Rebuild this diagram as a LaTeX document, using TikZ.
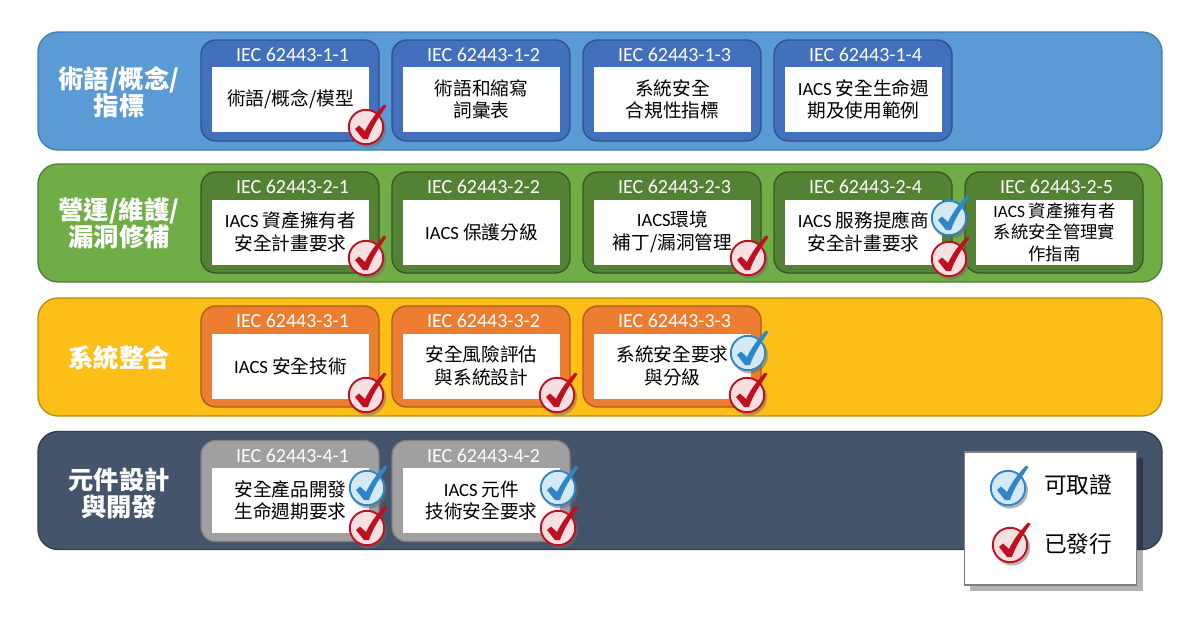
\documentclass[tikz,border=0pt]{standalone}
\usepackage{fontspec}
\setmainfont{Carlito}
\newfontfamily\cjk{Noto Sans CJK TC}
\newfontfamily\calibri{Carlito}
\definecolor{blueband}{HTML}{5B9BD5}
\definecolor{blueedge}{HTML}{3F7FB5}
\definecolor{bluecard}{HTML}{4270BC}
\definecolor{bluecardedge}{HTML}{2F528F}
\definecolor{greenband}{HTML}{70AD47}
\definecolor{greenedge}{HTML}{507E32}
\definecolor{greencard}{HTML}{548235}
\definecolor{greencardedge}{HTML}{385723}
\definecolor{yellowband}{HTML}{FBBF17}
\definecolor{yellowedge}{HTML}{BC8C0C}
\definecolor{orangecard}{HTML}{ED7D31}
\definecolor{orangecardedge}{HTML}{AE5A21}
\definecolor{navyband}{HTML}{44546A}
\definecolor{navyedge}{HTML}{323F4F}
\definecolor{greycard}{HTML}{A0A0A0}
\definecolor{greycardedge}{HTML}{7F7F7F}
\definecolor{tickred}{HTML}{C00F20}
\definecolor{tickredfill}{HTML}{F8E0E0}
\definecolor{tickblue}{HTML}{2E86C8}
\definecolor{tickbluefill}{HTML}{D5E9F4}
\definecolor{tickshade}{HTML}{6E6A66}
\newcommand{\ticksym}[2]{%
  \fill [tickshade, opacity=0.5] (2,2.5) circle (18);
  \draw [#1, fill=#2, line width=1.4pt] (0,0) circle (17.2);
  \fill [#1] (-11,2) -- (-7,-1.5) -- (-1,4) .. controls (5,-8) and (11,-15) .. (18,-22.5) -- (20.5,-21)
    .. controls (13,-10) and (6,0) .. (2,12) -- (-3,12) -- cycle;
}
\tikzset{
  band/.style={draw, rounded corners=15pt, line width=1pt, minimum width=843pt, minimum height=88.5pt},
  bandtext/.style={text=white, align=center, font=\cjk\bfseries\fontsize{19}{20.5}\selectfont},
  card/.style={draw, rounded corners=11pt, line width=1pt, minimum width=133.5pt, minimum height=75.75pt},
  cardtitle/.style={text=white, font=\calibri\fontsize{15}{16}\selectfont},
  cardbody/.style={fill=white, inner sep=0pt, align=center, minimum width=117.75pt, minimum height=48.75pt, font=\cjk\fontsize{14}{17}\selectfont},
  legendtext/.style={font=\cjk\fontsize{17}{19}\selectfont},
  pics/redtick/.style={code={\ticksym{tickred}{tickredfill}}},
  pics/bluetick/.style={code={\ticksym{tickblue}{tickbluefill}}}
}
\begin{document}
\begin{tikzpicture}[x=0.75pt,y=-0.75pt]
	\useasboundingbox (0,0) rectangle (1200,628);
	% bands
	\node [band, draw=blueedge, fill=blueband] (bandA) at (600,91) {};
	\node [band, draw=greenedge, fill=greenband] (bandB) at (600,223) {};
	\node [band, draw=yellowedge, fill=yellowband] (bandC) at (600,357) {};
	\node [band, draw=navyedge, fill=navyband] (bandD) at (600,490.5) {};
	\node [bandtext] (labelA) at (119,92) {術語/概念/\\指標};
	\node [bandtext] (labelB) at (119,223) {營運/維護/\\漏洞修補};
	\node [bandtext] (labelC) at (119,358) {系統整合};
	\node [bandtext] (labelD) at (119,493) {元件設計\\與開發};
	% first row
	\node [card, draw=bluecardedge, fill=bluecard] (cardAa) at (290,90.5) {};
	\node [card, draw=bluecardedge, fill=bluecard] (cardAb) at (481,90.5) {};
	\node [card, draw=bluecardedge, fill=bluecard] (cardAc) at (672,90.5) {};
	\node [card, draw=bluecardedge, fill=bluecard] (cardAd) at (863,90.5) {};
	\node [cardtitle] (titleAa) at (292.5,55) {IEC 62443-1-1};
	\node [cardtitle] (titleAb) at (483.5,55) {IEC 62443-1-2};
	\node [cardtitle] (titleAc) at (674.5,55) {IEC 62443-1-3};
	\node [cardtitle] (titleAd) at (865.5,55) {IEC 62443-1-4};
	\node [cardbody] (bodyAa) at (290.5,99.5) {術語/概念/模型};
	\node [cardbody] (bodyAb) at (481.5,99.5) {術語和縮寫\\詞彙表};
	\node [cardbody] (bodyAc) at (672.5,99.5) {系統安全\\合規性指標};
	\node [cardbody] (bodyAd) at (863.5,99.5) {{\calibri IACS} 安全生命週\\期及使用範例};
	% second row
	\node [card, draw=greencardedge, fill=greencard] (cardBa) at (290,222.5) {};
	\node [card, draw=greencardedge, fill=greencard] (cardBb) at (481,222.5) {};
	\node [card, draw=greencardedge, fill=greencard] (cardBc) at (672,222.5) {};
	\node [card, draw=greencardedge, fill=greencard] (cardBd) at (863,222.5) {};
	\node [card, draw=greencardedge, fill=greencard] (cardBe) at (1054,222.5) {};
	\node [cardtitle] (titleBa) at (292.5,187) {IEC 62443-2-1};
	\node [cardtitle] (titleBb) at (483.5,187) {IEC 62443-2-2};
	\node [cardtitle] (titleBc) at (674.5,187) {IEC 62443-2-3};
	\node [cardtitle] (titleBd) at (865.5,187) {IEC 62443-2-4};
	\node [cardtitle] (titleBe) at (1056.5,187) {IEC 62443-2-5};
	\node [cardbody] (bodyBa) at (290.5,232) {{\calibri IACS} 資產擁有者\\安全計畫要求};
	\node [cardbody] (bodyBb) at (481.5,232) {{\calibri IACS} 保護分級};
	\node [cardbody] (bodyBc) at (672.5,232) {{\calibri IACS}環境\\補丁/漏洞管理};
	\node [cardbody] (bodyBd) at (863.5,232) {{\calibri IACS} 服務提應商\\安全計畫要求};
	\node [cardbody, font=\cjk\fontsize{13}{16}\selectfont] (bodyBe) at (1054.5,232) {{\calibri IACS} 資產擁有者\\系統安全管理實\\作指南};
	% third row
	\node [card, draw=orangecardedge, fill=orangecard] (cardCa) at (290,356.5) {};
	\node [card, draw=orangecardedge, fill=orangecard] (cardCb) at (481,356.5) {};
	\node [card, draw=orangecardedge, fill=orangecard] (cardCc) at (672,356.5) {};
	\node [cardtitle] (titleCa) at (292.5,321) {IEC 62443-3-1};
	\node [cardtitle] (titleCb) at (483.5,321) {IEC 62443-3-2};
	\node [cardtitle] (titleCc) at (674.5,321) {IEC 62443-3-3};
	\node [cardbody] (bodyCa) at (290.5,366) {{\calibri IACS} 安全技術};
	\node [cardbody] (bodyCb) at (481.5,366) {安全風險評估\\與系統設計};
	\node [cardbody] (bodyCc) at (672.5,366) {系統安全要求\\與分級};
	% fourth row
	\node [card, draw=greycardedge, fill=greycard] (cardDa) at (290,491) {};
	\node [card, draw=greycardedge, fill=greycard] (cardDb) at (481,491) {};
	\node [cardtitle] (titleDa) at (292.5,456) {IEC 62443-4-1};
	\node [cardtitle] (titleDb) at (483.5,456) {IEC 62443-4-2};
	\node [cardbody] (bodyDa) at (290.5,500.5) {安全產品開發\\生命週期要求};
	\node [cardbody] (bodyDb) at (481.5,500.5) {{\calibri IACS} 元件\\技術安全要求};
	% ticks
	\pic at (366,127) {redtick};
	\pic at (366,258) {redtick};
	\pic at (748,258) {redtick};
	\pic at (949,218) {bluetick};
	\pic at (949,259) {redtick};
	\pic at (366,395) {redtick};
	\pic at (557,395) {redtick};
	\pic at (748,353) {bluetick};
	\pic at (747,395) {redtick};
	\pic at (367,488) {bluetick};
	\pic at (367,528) {redtick};
	\pic at (558,488) {bluetick};
	\pic at (558,528) {redtick};
	% legend
	\fill [black, opacity=0.3] (970,458) rectangle (1143,591);
	\node [draw=greycardedge, fill=white, line width=1pt, minimum width=129pt, minimum height=99.75pt] (legendbox) at (1050.5,518.5) {};
	\pic at (1008,488) {bluetick};
	\pic at (1010,545) {redtick};
	\node [legendtext] (legendblue) at (1078,485) {可取證};
	\node [legendtext] (legendred) at (1078,544) {已發行};
\end{tikzpicture}
\end{document}
